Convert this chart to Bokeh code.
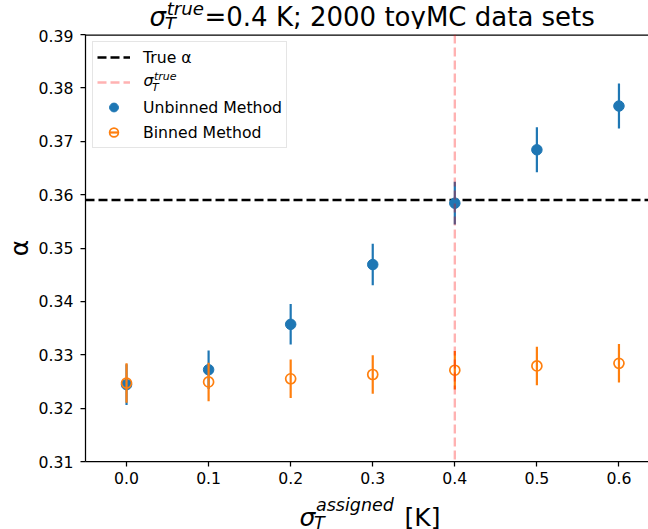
import math
import numpy as np
from bokeh.plotting import figure
from bokeh.layouts import column
from bokeh.models import (Range1d, FixedTicker, NumeralTickFormatter, Span, Label,
                          Legend, LegendItem, ColumnDataSource)
from bokeh.embed import file_html
from bokeh.resources import INLINE

# ---- data ----
sigma_assigned = [0.0, 0.1, 0.2, 0.3, 0.4, 0.5, 0.6]
alpha_unbinned = [0.3244, 0.3272, 0.3357, 0.3469, 0.3584, 0.3684, 0.3766]
err_unbinned = [0.0038, 0.0036, 0.0038, 0.0039, 0.0040, 0.0042, 0.0042]
alpha_binned = [0.3247, 0.3249, 0.3255, 0.3263, 0.3271, 0.3279, 0.3284]
err_binned = [0.0037, 0.0036, 0.0036, 0.0036, 0.0036, 0.0036, 0.0036]
true_alpha = 0.359
sigma_true = 0.4
x_ticks = [0.0, 0.1, 0.2, 0.3, 0.4, 0.5, 0.6]
y_ticks = [0.31, 0.32, 0.33, 0.34, 0.35, 0.36, 0.37, 0.38, 0.39]

BLUE = "#1f77b4"
ORANGE = "#ff7f0e"
FONT = "DejaVu Sans"
TICK_FS = "15.7px"
W = 648


def add_label(fig, text, x, y, size, italic=False, level="annotation"):
    fig.add_layout(Label(x=x, y=y, x_units="screen", y_units="screen", text=text,
                         text_font=FONT, text_font_size=f"{size}px",
                         text_font_style="italic" if italic else "normal",
                         text_color="black", text_align="left",
                         text_baseline="alphabetic", level=level))


def text_strip(height):
    f = figure(width=W, height=height, x_range=Range1d(0, 1), y_range=Range1d(0, 1),
               title=None, output_backend="svg", toolbar_location=None, min_border=0,
               x_axis_location=None, y_axis_location=None)
    f.outline_line_color = None
    f.background_fill_color = "white"
    f.border_fill_color = "white"
    f.grid.visible = False
    return f


# ---------------- title strip (frame aligned with the main frame) ----------------
title_fig = text_strip(29)
add_label(title_fig, "σ", 64, 12.8, 26, True)
add_label(title_fig, "true", 81.2, 21.5, 18.2, True)
add_label(title_fig, "T", 79.2, 6, 18.2, True)
add_label(title_fig, "=0.4 K; 2000 toyMC data sets", 119, 12.8, 26)

# ---------------- main plot ----------------
x = np.array(sigma_assigned)
ub = np.array(alpha_unbinned); ube = np.array(err_unbinned)
bn = np.array(alpha_binned); bne = np.array(err_binned)
src_ub = ColumnDataSource(dict(x=x, y=ub, lo=ub - ube, hi=ub + ube))
src_bn = ColumnDataSource(dict(x=x, y=bn, lo=bn - bne, hi=bn + bne))

p = figure(width=W, height=461, title=None,
           x_range=Range1d(-0.05, 0.636), y_range=Range1d(y_ticks[0], y_ticks[-1]),
           output_backend="svg", toolbar_location=None,
           min_border_left=85, min_border_right=0, min_border_top=5, min_border_bottom=29)
p.background_fill_color = "white"
p.border_fill_color = "white"
p.outline_line_color = None
p.xgrid.visible = False
p.ygrid.visible = False

for ax in (p.xaxis[0], p.yaxis[0]):
    ax.axis_line_color = "black"
    ax.axis_line_width = 1.25
    ax.major_tick_line_color = "black"
    ax.major_tick_line_width = 1.25
    ax.major_tick_in = 0
    ax.major_tick_out = 5
    ax.minor_tick_line_color = None
    ax.major_label_text_font = FONT
    ax.major_label_text_font_size = TICK_FS
    ax.major_label_text_color = "black"

p.xaxis.ticker = FixedTicker(ticks=x_ticks)
p.xaxis.formatter = NumeralTickFormatter(format="0.0")
p.xaxis.major_label_standoff = 5
p.yaxis.ticker = FixedTicker(ticks=y_ticks)
p.yaxis.formatter = NumeralTickFormatter(format="0.00")
p.yaxis.major_label_standoff = 7
p.yaxis.axis_label = "α"
p.yaxis.axis_label_text_font = FONT
p.yaxis.axis_label_text_font_size = "25px"
p.yaxis.axis_label_text_font_style = "normal"
p.yaxis.axis_label_text_color = "black"
p.yaxis.axis_label_standoff = 2

# top spine (the frame's upper edge)
p.add_layout(Span(location=y_ticks[-1], dimension="width", line_color="black",
                  line_width=2.5, level="underlay"))

p.add_layout(Span(location=true_alpha, dimension="width", line_color="black",
                  line_dash="9 4", line_width=2.36, level="underlay"))

p.segment(x0="x", y0="lo", x1="x", y1="hi", source=src_ub, line_color=BLUE, line_width=2.2)
r_ub = p.scatter("x", "y", source=src_ub, marker="circle", size=10.5,
                 fill_color=BLUE, line_color=BLUE)
p.segment(x0="x", y0="lo", x1="x", y1="hi", source=src_bn, line_color=ORANGE, line_width=2.2)
r_bn = p.scatter("x", "y", source=src_bn, marker="circle", size=10,
                 fill_color=None, line_color=ORANGE, line_width=1.7)

p.add_layout(Span(location=sigma_true, dimension="height", line_color="red",
                  line_alpha=0.3, line_dash="9 4", line_width=2.36))

# legend proxies (no visible data)
nan = [float("nan")]
r_true_proxy = p.line(x=nan, y=nan, line_color="black", line_dash="9 4", line_width=2.36)
r_pink_proxy = p.line(x=nan, y=nan, line_color="red", line_alpha=0.3, line_dash="9 4", line_width=2.36)
r_ub_bar = p.scatter(x=nan, y=nan, marker="dash", angle=math.pi / 2, line_color=BLUE, line_width=2.2)
r_bn_bar = p.scatter(x=nan, y=nan, marker="dash", angle=math.pi / 2, line_color=ORANGE, line_width=2.2)

legend = Legend(items=[
    LegendItem(label="True α", renderers=[r_true_proxy]),
    LegendItem(label=" ", renderers=[r_pink_proxy]),
    LegendItem(label="Unbinned Method", renderers=[r_ub_bar, r_ub]),
    LegendItem(label="Binned Method", renderers=[r_bn_bar, r_bn]),
], location="top_left", margin=7, padding=4, spacing=3,
    glyph_width=33, glyph_height=22, label_height=22, label_standoff=13,
    label_text_font=FONT, label_text_font_size=TICK_FS, label_text_color="black",
    border_line_color="#cccccc", border_line_width=1,
    background_fill_color="white", background_fill_alpha=0)
p.add_layout(legend, "center")

# legend entry text: sigma_T^true
add_label(p, "σ", 58, 380.7, 15.7, True, level="overlay")
add_label(p, "true", 68.4, 385.3, 11, True, level="overlay")
add_label(p, "T", 66.4, 373.8, 11, True, level="overlay")

# ---------------- x-label strip ----------------
xlab_fig = text_strip(39)
add_label(xlab_fig, "σ", 214, 12.5, 25, True)
add_label(xlab_fig, "assigned", 230.5, 24.3, 17.5, True)
add_label(xlab_fig, "T", 228.5, 6.3, 17.5, True)
add_label(xlab_fig, "[K]", 319, 12.5, 25)

layout = column(title_fig, p, xlab_fig, spacing=0)
open("out.html", "w").write(file_html(layout, INLINE))
